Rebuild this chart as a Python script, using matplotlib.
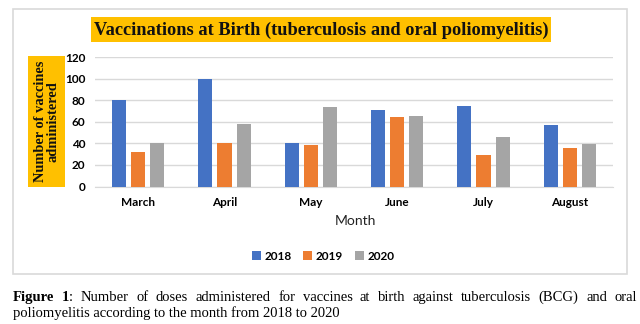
import matplotlib
matplotlib.use("Agg")
import matplotlib.pyplot as plt
from matplotlib.patches import Rectangle, Patch
import numpy as np

months = ["March", "April", "May", "June", "July", "August"]
years = ["2018", "2019", "2020"]
v2018 = [80, 100, 40, 71, 75, 57]
v2019 = [32, 40, 38, 64, 29, 36]
v2020 = [40, 58, 74, 65, 46, 39]
yticks = [0, 20, 40, 60, 80, 100, 120]
title = "Vaccinations at Birth (tuberculosis and oral poliomyelitis)"
ylabel = "Number of vaccines\nadministered"
xlabel = "Month"
cap_line1 = "Number of doses administered for vaccines at birth against tuberculosis (BCG) and oral"
cap_line2 = "poliomyelitis according to the month from 2018 to 2020"

colors = ["#4472C4", "#ED7D31", "#A5A5A5"]
gold = "#FFC000"

W, H = 640, 324
fig = plt.figure(figsize=(6.4, 3.24), dpi=100)
fig.patch.set_facecolor("white")
renderer = fig.canvas.get_renderer()


def fx(px):
    return px / W


def fy(py):
    return 1 - py / H


def fit(t, target_px, horizontal=True):
    fig.canvas.draw()
    bb = t.get_window_extent(renderer)
    cur = bb.width if horizontal else bb.height
    t.set_fontsize(t.get_fontsize() * target_px / cur)


# chart border
fig.add_artist(Rectangle((fx(13), fy(274)), fx(627) - fx(13), (274 - 9) / H,
                         transform=fig.transFigure, fill=False,
                         edgecolor="#D9D9D9", lw=1.2))

# axes
ax = fig.add_axes([fx(95), fy(186.5), fx(613) - fx(95), (186.5 - 57) / H])
x = np.arange(len(months))
w = 0.165
off = 0.222
for i, (vals, c, yr) in enumerate(zip([v2018, v2019, v2020], colors, years)):
    ax.bar(x + (i - 1) * off, vals, w, color=c, label=yr, zorder=3)
ax.set_xlim(-0.5, 5.5)
ax.set_ylim(0, 120)
ax.set_yticks(yticks)
ax.set_yticklabels([str(v) for v in yticks], fontfamily="Lato",
                   fontweight="bold", fontsize=8.5)
ax.set_xticks(x)
ax.set_xticklabels(months, fontfamily="Lato", fontweight="bold", fontsize=8.5)
ax.yaxis.grid(True, color="#D9D9D9", lw=1, zorder=0)
for s in ["top", "right", "left"]:
    ax.spines[s].set_visible(False)
ax.spines["bottom"].set_color("#D9D9D9")
ax.tick_params(axis="both", length=0)
ax.tick_params(axis="x", pad=7.5)
ax.tick_params(axis="y", pad=7)

# x label
fig.text(fx(355), fy(221), xlabel, ha="center", va="center",
         fontfamily="Lato", fontsize=10, color="#222222")

# legend
handles = [Patch(facecolor=c, edgecolor="none", label=y) for c, y in zip(colors, years)]
fig.legend(handles=handles, loc="center", bbox_to_anchor=(fx(323), fy(256)),
           ncol=3, frameon=False, handlelength=0.75, handleheight=0.75,
           handletextpad=0.3, columnspacing=1.0,
           prop={"family": "Lato", "weight": "bold", "size": 8.5})

# title box
fig.add_artist(Rectangle((fx(91), fy(42)), fx(551) - fx(91), (42 - 17) / H,
                         transform=fig.transFigure, facecolor=gold,
                         edgecolor="none"))
tt = fig.text(fx(321.5), fy(30), title, ha="center", va="center",
              fontfamily="Liberation Serif", fontweight="bold", fontsize=12,
              color="#111111")
fit(tt, 450)

# y label box
fig.add_artist(Rectangle((fx(28), fy(187)), fx(65) - fx(28), (187 - 56) / H,
                         transform=fig.transFigure, facecolor=gold,
                         edgecolor="none"))
yt = fig.text(fx(46.5), fy(121.5), ylabel, ha="center", va="center",
              rotation=90, fontfamily="Liberation Serif", fontweight="bold",
              fontsize=10, color="#111111", linespacing=1.0, multialignment="center")
fit(yt, 122, horizontal=False)

# caption
c2 = fig.text(fx(13), fy(317), cap_line2, ha="left", va="baseline",
              fontfamily="Liberation Serif", fontsize=9)
fit(c2, 328)
fs = c2.get_fontsize()

# justified first line
tokens = [[("Figure", "bold")], [("1", "bold"), (":", "normal")]] + \
         [[(wd, "normal")] for wd in cap_line1.split()]
fig.canvas.draw()
tok_widths = []
for tok in tokens:
    wsum = 0
    for s, wt in tok:
        t = fig.text(0, 0, s, fontfamily="Liberation Serif", fontweight=wt, fontsize=fs)
        fig.canvas.draw()
        wsum += t.get_window_extent(renderer).width
        t.remove()
    tok_widths.append(wsum)
left, right = 13, 637
gap = (right - left - sum(tok_widths)) / (len(tokens) - 1)
xpos = left
for tok, tw in zip(tokens, tok_widths):
    xx = xpos
    for s, wt in tok:
        t = fig.text(fx(xx), fy(301), s, ha="left", va="baseline",
                     fontfamily="Liberation Serif", fontweight=wt, fontsize=fs)
        fig.canvas.draw()
        xx += t.get_window_extent(renderer).width
    xpos += tw + gap

fig.savefig("out.png", dpi=100, facecolor="white")
